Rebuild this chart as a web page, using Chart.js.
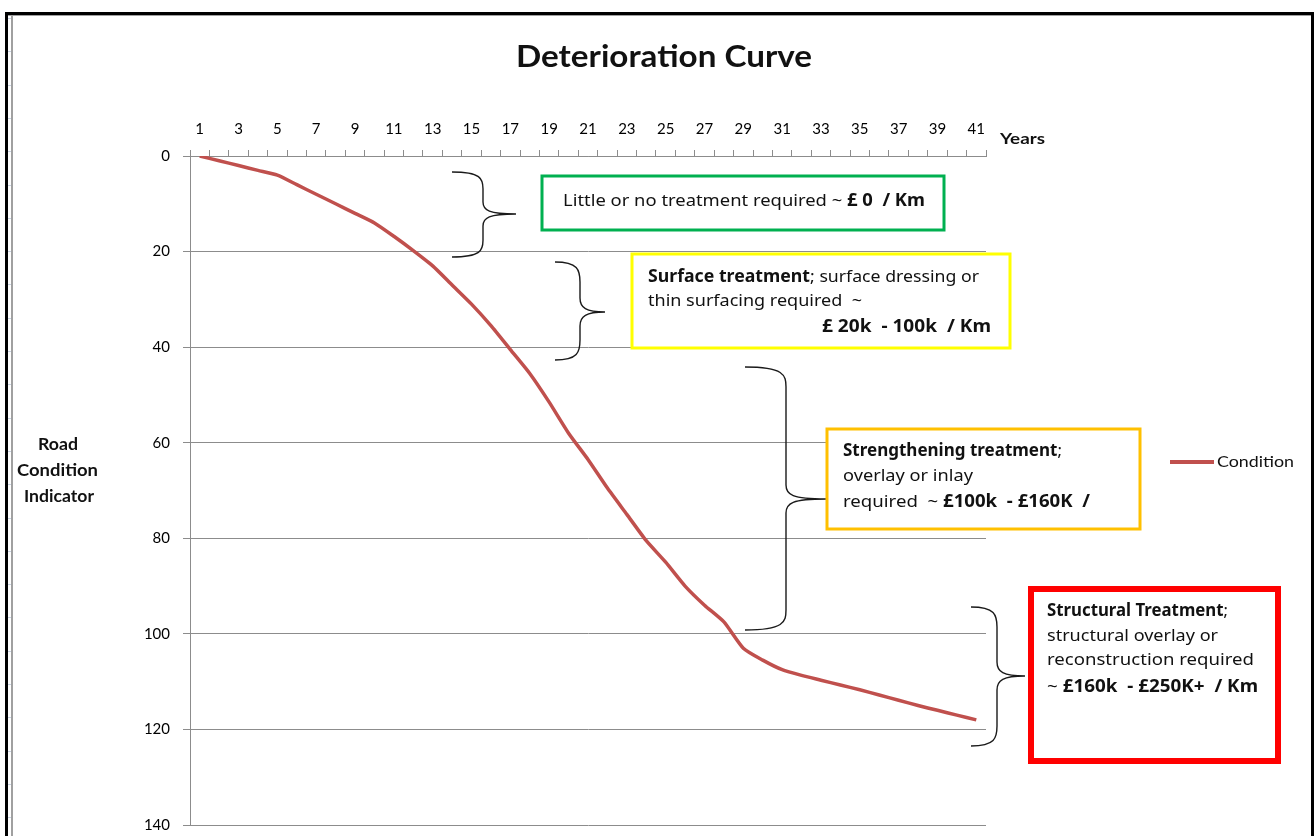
<!DOCTYPE html>
<html>
<head>
<meta charset="utf-8">
<title>Deterioration Curve</title>
<script src="https://cdn.jsdelivr.net/npm/chart.js@4.4.1/dist/chart.umd.min.js"></script>
<style>
  html, body { margin: 0; padding: 0; background: #ffffff; }
  #wrap { width: 1315px; height: 836px; position: relative; }
</style>
</head>
<body>
<div id="wrap"><canvas id="chart" width="1315" height="836"></canvas></div>
<script>
// Years along the top axis
const years = [1, 2, 3, 4, 5, 6, 7, 8, 9, 10, 11, 12, 13, 14, 15, 16, 17, 18, 19, 20,
               21, 22, 23, 24, 25, 26, 27, 28, 29, 30, 31, 32, 33, 34, 35, 36, 37, 38, 39, 40, 41];

// Road condition indicator for each year
const condition = [0, 1, 2, 3, 4, 6, 8, 10, 12, 14,
                   16.8, 19.8, 23, 27, 31, 35.5, 40.5, 45.5, 51.5, 58,
                   63.5, 69.5, 75, 80.5, 85, 90, 94, 97.5, 103, 105.5,
                   107.5, 108.7, 109.7, 110.7, 111.7, 112.8, 113.9, 115, 116, 117, 118];

// Value axis ticks
const conditionTicks = [0, 20, 40, 60, 80, 100, 120, 140];

const seriesName = 'Condition';
const chartTitle = 'Deterioration Curve';
const xAxisTitle = 'Years';
const yAxisTitle = ['Road', 'Condition', 'Indicator'];

// Treatment bands shown beside the curve
const bands = [
  {
    color: '#00B050', lineWidth: 3, rect: [542, 176, 944, 230],
    brace: { tip: 452, top: 172, bottom: 257, mid: 483, point: 516, py: 214 },
    lines: [
      { x0: 563, x1: 925, y: 201, runs: [['Little or no treatment required ~ ', false], ['£ 0  / Km', true]] }
    ]
  },
  {
    color: '#FFFF00', lineWidth: 3, rect: [632, 254, 1010, 348],
    brace: { tip: 555, top: 262, bottom: 360, mid: 580, point: 605, py: 312 },
    lines: [
      { x0: 648, x1: 979, y: 277, runs: [['Surface treatment', true], ['; surface dressing or', false]] },
      { x0: 648, x1: 862, y: 301, runs: [['thin surfacing required  ~', false]] },
      { x0: 822, x1: 991, y: 327, runs: [['£ 20k  - 100k  / Km', true]] }
    ]
  },
  {
    color: '#FFC000', lineWidth: 3, rect: [827, 429, 1140, 529],
    brace: { tip: 745, top: 367, bottom: 630, mid: 786, point: 826, py: 499 },
    lines: [
      { x0: 843, x1: 1062, y: 451, runs: [['Strengthening treatment', true], [';', false]] },
      { x0: 843, x1: 973, y: 476, runs: [['overlay or inlay', false]] },
      { x0: 843, x1: 1090, y: 502, runs: [['required  ~ ', false], ['£100k  - £160K  /', true]] }
    ]
  },
  {
    color: '#FF0000', lineWidth: 6, rect: [1031, 589, 1278, 761],
    brace: { tip: 971, top: 607, bottom: 746, mid: 997, point: 1025, py: 676 },
    lines: [
      { x0: 1047, x1: 1228, y: 611, runs: [['Structural Treatment', true], [';', false]] },
      { x0: 1047, x1: 1218, y: 636, runs: [['structural overlay or', false]] },
      { x0: 1047, x1: 1254, y: 660, runs: [['reconstruction required', false]] },
      { x0: 1047, x1: 1258, y: 687, runs: [['~ ', false], ['£160k  - £250K+  / Km', true]] }
    ]
  }
];

const LABEL_FONT = 'Lato, "Open Sans", sans-serif';
const BOX_FONT = '"Noto Sans", "DejaVu Sans", sans-serif';
const GRID = '#8c8c8c';

// Draw a sequence of normal/bold runs squeezed to span x0..x1
function drawRuns(ctx, runs, x0, x1, y, size, family) {
  let total = 0;
  const widths = runs.map(([t, b]) => {
    ctx.font = (b ? 'bold ' : '') + size + 'px ' + family;
    const w = ctx.measureText(t).width;
    total += w;
    return w;
  });
  const sx = (x1 - x0) / total;
  ctx.save();
  ctx.translate(x0, y);
  ctx.scale(sx, 1);
  ctx.textBaseline = 'middle';
  ctx.textAlign = 'left';
  ctx.fillStyle = '#111';
  let cx = 0;
  runs.forEach(([t, b], i) => {
    ctx.font = (b ? 'bold ' : '') + size + 'px ' + family;
    ctx.fillText(t, cx, 0);
    cx += widths[i];
  });
  ctx.restore();
}

// Curly brace opening to the right
function drawBrace(ctx, b) {
  ctx.save();
  ctx.strokeStyle = '#1a1a1a';
  ctx.lineWidth = 1.4;
  const r1 = Math.min(20, (b.py - b.top) / 2.5);
  const r2 = Math.min(14, (b.py - b.top) / 3.5);
  ctx.beginPath();
  ctx.moveTo(b.tip, b.top);
  ctx.bezierCurveTo(b.mid - 2, b.top, b.mid, b.top + r1 * 0.4, b.mid, b.top + r1);
  ctx.lineTo(b.mid, b.py - r2);
  ctx.bezierCurveTo(b.mid, b.py - r2 * 0.3, b.mid + 6, b.py, b.point, b.py);
  ctx.moveTo(b.point, b.py);
  ctx.bezierCurveTo(b.mid + 6, b.py, b.mid, b.py + r2 * 0.3, b.mid, b.py + r2);
  ctx.lineTo(b.mid, b.bottom - r1);
  ctx.bezierCurveTo(b.mid, b.bottom - r1 * 0.4, b.mid - 2, b.bottom, b.tip, b.bottom);
  ctx.stroke();
  ctx.restore();
}

// Horizontal extents of the stacked value-axis title lines
const yTitleSpans = [[38, 78], [17, 98], [24, 94]];

const decorations = {
  id: 'decorations',
  beforeDraw(chart) {
    const ctx = chart.ctx;
    ctx.save();
    ctx.fillStyle = '#ffffff';
    ctx.fillRect(0, 0, chart.width, chart.height);
    ctx.restore();
  },
  afterDraw(chart) {
    const ctx = chart.ctx;

    // Title
    drawRuns(ctx, [[chartTitle, true]], 516, 812, 57, 30, LABEL_FONT);

    // Axis titles
    drawRuns(ctx, [[xAxisTitle, true]], 1000, 1045, 139, 16, LABEL_FONT);
    yAxisTitle.forEach((t, i) => {
      const [a, b] = yTitleSpans[i];
      drawRuns(ctx, [[t, true]], a, b, 445 + i * 26, 17, LABEL_FONT);
    });

    // Legend
    const ds = chart.data.datasets[0];
    ctx.save();
    ctx.strokeStyle = ds.borderColor;
    ctx.lineWidth = 4;
    ctx.beginPath();
    ctx.moveTo(1170, 462);
    ctx.lineTo(1214, 462);
    ctx.stroke();
    ctx.restore();
    drawRuns(ctx, [[ds.label, false]], 1217, 1294, 462, 16, LABEL_FONT);

    // Treatment bands: brace, framed box and text
    bands.forEach(band => {
      drawBrace(ctx, band.brace);
      const [x0, y0, x1, y1] = band.rect;
      ctx.save();
      ctx.fillStyle = '#ffffff';
      ctx.fillRect(x0, y0, x1 - x0, y1 - y0);
      ctx.strokeStyle = band.color;
      ctx.lineWidth = band.lineWidth;
      ctx.strokeRect(x0, y0, x1 - x0, y1 - y0);
      ctx.restore();
      band.lines.forEach(l => drawRuns(ctx, l.runs, l.x0, l.x1, l.y, 17, BOX_FONT));
    });

    // Sheet frame around the chart
    ctx.save();
    ctx.fillStyle = '#000';
    ctx.fillRect(5, 12, 1309, 3);
    ctx.fillRect(5, 12, 3, 824);
    ctx.fillRect(1311, 12, 3, 824);
    ctx.fillStyle = '#a0a0a0';
    ctx.fillRect(8, 15, 1303, 1);
    ctx.fillRect(11, 16, 2, 820);
    ctx.fillStyle = '#c9d3e2';
    for (let y = 18; y < 836; y += 33.3) ctx.fillRect(8, Math.round(y), 3, 1);
    ctx.restore();
  }
};

new Chart(document.getElementById('chart'), {
  type: 'line',
  data: {
    labels: years,
    datasets: [{
      label: seriesName,
      data: condition,
      borderColor: '#C0504D',
      backgroundColor: '#C0504D',
      borderWidth: 3.5,
      pointRadius: 0,
      tension: 0.2,
      fill: false
    }]
  },
  options: {
    responsive: false,
    animation: false,
    events: [],
    layout: { padding: { left: 0, top: 0, right: 329, bottom: 11 } },
    plugins: {
      legend: { display: false },
      title: { display: false },
      tooltip: { enabled: false }
    },
    scales: {
      x: {
        type: 'category',
        position: 'top',
        offset: true,
        grid: { offset: true, drawOnChartArea: false, drawTicks: true, tickLength: 6, color: GRID },
        border: { display: true, color: GRID, width: 1 },
        ticks: {
          autoSkip: false,
          maxRotation: 0,
          padding: 12,
          color: '#000',
          font: { family: LABEL_FONT, size: 15 },
          callback: (v, i) => (i % 2 === 0 ? String(years[i]) : '')
        },
        afterFit: s => { s.height = 156; s.paddingLeft = 0; s.paddingRight = 0; }
      },
      y: {
        reverse: true,
        min: conditionTicks[0],
        max: conditionTicks[conditionTicks.length - 1],
        afterBuildTicks: s => { s.ticks = conditionTicks.map(v => ({ value: v })); },
        grid: { color: GRID, tickLength: 7, drawTicks: true },
        border: { display: true, color: GRID, width: 1 },
        ticks: {
          padding: 13,
          color: '#000',
          font: { family: LABEL_FONT, size: 15 }
        },
        afterFit: s => { s.width = 190; s.paddingTop = 0; s.paddingBottom = 0; }
      }
    }
  },
  plugins: [decorations]
});
</script>
</body>
</html>
